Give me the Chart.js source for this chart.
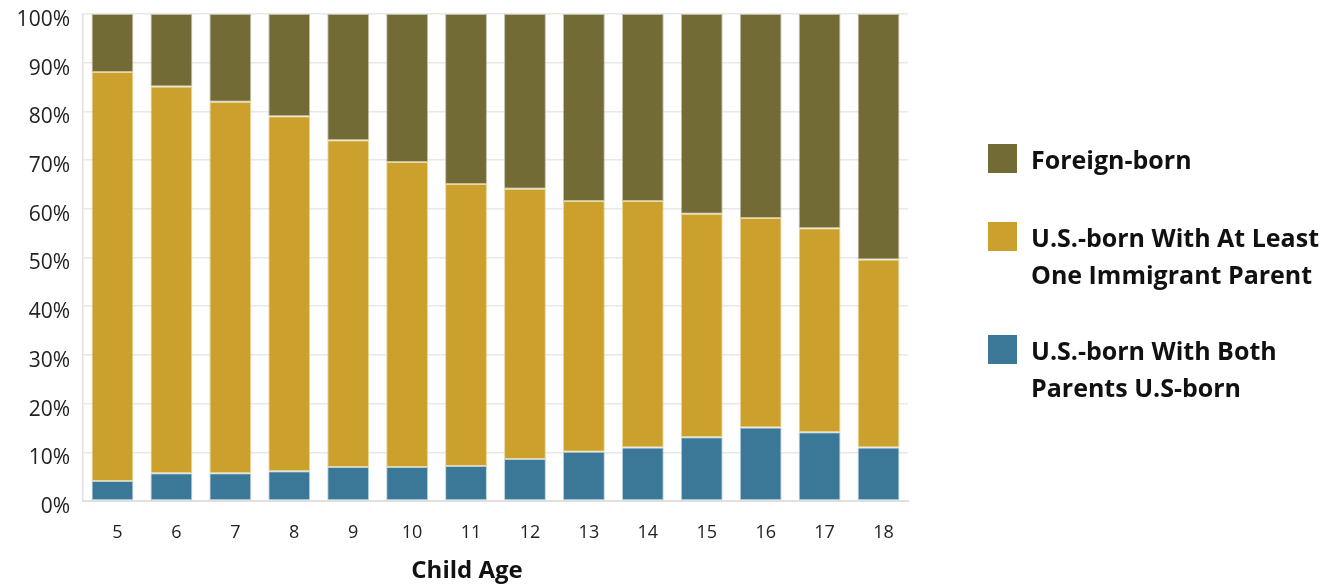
<!DOCTYPE html>
<html>
<head>
<meta charset="utf-8">
<script src="https://cdn.jsdelivr.net/npm/chart.js@4/dist/chart.umd.min.js"></script>
<style>
  html, body { margin: 0; padding: 0; background: #fff; }
  #wrap { position: relative; width: 1323px; height: 586px; }
  #legend { position: absolute; left: 988px; top: 0; font-family: "Open Sans", sans-serif; font-weight: bold; font-size: 25px; color: #111; }
  .item { position: absolute; left: 0; white-space: nowrap; }
  .sw { position: absolute; left: 0; width: 29px; height: 29px; }
  .txt { position: absolute; left: 43px; line-height: 37px; }
</style>
</head>
<body>
<div id="wrap">
  <canvas id="c" width="1323" height="586"></canvas>
  <div id="legend"></div>
</div>
<script>
const categories = ['5','6','7','8','9','10','11','12','13','14','15','16','17','18'];
const bothParentsUS = [4.1, 5.7, 5.7, 6.1, 7.0, 7.0, 7.2, 8.6, 10.1, 11.0, 13.1, 15.1, 14.1, 11.0];
const immigrantParent = [84.0, 79.4, 76.3, 72.9, 67.1, 62.6, 57.9, 55.5, 51.5, 50.6, 45.9, 43.0, 41.9, 38.6];
const foreignBorn = [11.9, 14.9, 18.0, 21.0, 25.9, 30.4, 34.9, 35.9, 38.4, 38.4, 41.0, 41.9, 44.0, 50.4];
const seriesNames = ['U.S.-born With Both Parents U.S-born', 'U.S.-born With At Least One Immigrant Parent', 'Foreign-born'];
const legendLines = [['Foreign-born'], ['U.S.-born With At Least', 'One Immigrant Parent'], ['U.S.-born With Both', 'Parents U.S-born']];
const colors = { blue: '#3b7797', gold: '#cca02c', olive: '#726b35' };
const yTicks = [0,10,20,30,40,50,60,70,80,90,100];
const xTitle = 'Child Age';

const FONT = '"Open Sans", sans-serif';

const xTitlePlugin = {
  id: 'xTitle',
  afterDraw(chart) {
    const ctx = chart.ctx;
    const xs = chart.scales.x;
    ctx.save();
    ctx.font = 'bold 24px ' + FONT;
    ctx.fillStyle = '#111';
    ctx.textAlign = 'center';
    ctx.textBaseline = 'middle';
    ctx.fillText(xTitle, xs.getPixelForTick(6) + 1, chart.height - 15);
    ctx.restore();
  }
};

new Chart(document.getElementById('c'), {
  type: 'bar',
  data: {
    labels: categories,
    datasets: [
      { label: seriesNames[0], data: bothParentsUS, backgroundColor: colors.blue, borderColor: 'rgba(150,190,210,0.7)', borderWidth: 1, borderSkipped: false },
      { label: seriesNames[1], data: immigrantParent, backgroundColor: colors.gold, borderColor: 'rgba(230,200,110,0.7)', borderWidth: 1, borderSkipped: false },
      { label: seriesNames[2], data: foreignBorn, backgroundColor: colors.olive, borderColor: 'rgba(170,165,130,0.7)', borderWidth: 1, borderSkipped: false }
    ]
  },
  plugins: [xTitlePlugin],
  options: {
    responsive: false,
    animation: false,
    layout: { padding: { top: 14, right: 415, left: 0, bottom: 0 } },
    datasets: { bar: { barPercentage: 0.71, categoryPercentage: 1.0 } },
    plugins: { legend: { display: false }, tooltip: { enabled: false } },
    scales: {
      x: {
        stacked: true,
        grid: { display: false, drawTicks: false },
        border: { color: '#e0e0e0', width: 2 },
        ticks: { color: '#222', font: { family: FONT, size: 18 }, padding: 21, labelOffset: 5 },
        afterFit: (s) => { s.height = 85; s.paddingLeft = 0; s.paddingRight = 0; }
      },
      y: {
        stacked: true,
        min: 0, max: 100,
        afterBuildTicks: (s) => { s.ticks = yTicks.map(v => ({ value: v })); },
        grid: { color: '#e8e8e8', lineWidth: 1.5, drawTicks: false },
        border: { color: '#e0e0e0', width: 1.5 },
        ticks: { color: '#222', font: { family: FONT, size: 21 }, padding: 13, labelOffset: 6, callback: (v) => v + '%' },
        afterFit: (s) => { s.width = 83; s.paddingTop = 0; s.paddingBottom = 0; }
      }
    }
  }
});

// HTML legend (real text)
const legend = document.getElementById('legend');
const legendColors = [colors.olive, colors.gold, colors.blue];
const swatchTops = [144, 222, 335];
legendLines.forEach((lines, i) => {
  const item = document.createElement('div');
  item.className = 'item';
  item.style.top = swatchTops[i] + 'px';
  const sw = document.createElement('div');
  sw.className = 'sw';
  sw.style.background = legendColors[i];
  item.appendChild(sw);
  const t = document.createElement('div');
  t.className = 'txt';
  t.style.top = '-3px';
  t.innerHTML = lines.join('<br>');
  item.appendChild(t);
  legend.appendChild(item);
});
</script>
</body>
</html>
